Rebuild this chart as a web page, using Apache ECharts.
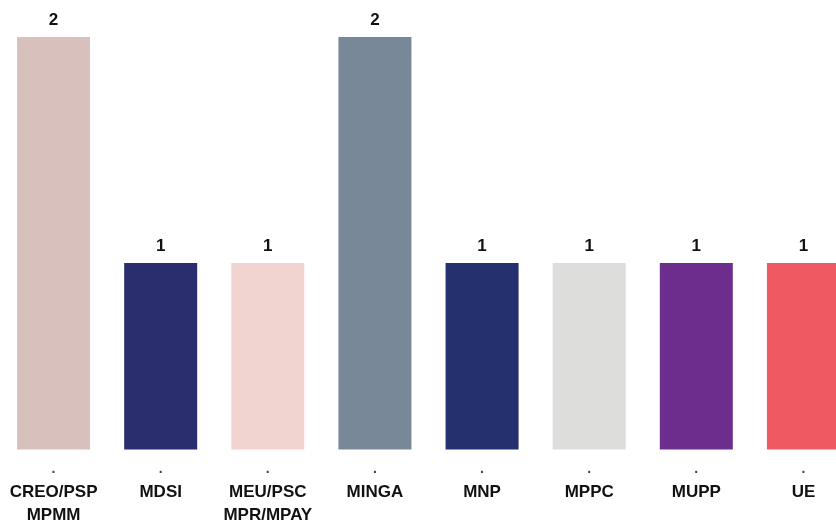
<!DOCTYPE html>
<html>
<head>
<meta charset="utf-8">
<script src="https://cdn.jsdelivr.net/npm/echarts@6/dist/echarts.min.js"></script>
<style>
html,body{margin:0;padding:0;background:#fff;}
#chart{width:836px;height:523px;}
</style>
</head>
<body>
<div id="chart"></div>
<script>
var categories = ["CREO/PSP\nMPMM", "MDSI", "MEU/PSC\nMPR/MPAY", "MINGA", "MNP", "MPPC", "MUPP", "UE"];
var values = [2, 1, 1, 2, 1, 1, 1, 1];
var barColors = ["#d8c1bd", "#2a2d6e", "#f1d4d0", "#788898", "#25316f", "#dddddc", "#6d2d8d", "#ef5a62"];

var chart = echarts.init(document.getElementById('chart'), null, {renderer: 'canvas'});
var font = "'Liberation Sans', Arial, Helvetica, sans-serif";
chart.setOption({
  animation: false,
  grid: {left: 0, right: -21, top: 37, bottom: 73.5, containLabel: false, outerBoundsMode: 'none'},
  xAxis: {
    type: 'category',
    data: categories,
    axisLine: {show: false},
    axisTick: {show: false},
    axisLabel: {
      interval: 0,
      margin: 8,
      formatter: function (v) {
        var lines = v.split('\n').map(function (s) { return '{name|' + s + '}'; });
        return '{dot|.}\n' + lines.join('\n');
      },
      rich: {
        dot: {fontFamily: font, fontSize: 14, fontWeight: 'bold', color: '#444', lineHeight: 23},
        name: {fontFamily: font, fontSize: 17, fontWeight: 'bold', color: '#111', lineHeight: 23}
      }
    }
  },
  yAxis: {
    type: 'value',
    min: 0.175,
    max: 2,
    show: false,
    splitLine: {show: false}
  },
  series: [{
    type: 'bar',
    barWidth: 73,
    data: values.map(function (v, i) { return {value: v, itemStyle: {color: barColors[i]}}; }),
    label: {
      show: true,
      position: 'top',
      distance: 8,
      fontFamily: font,
      fontSize: 17,
      fontWeight: 'bold',
      color: '#111'
    }
  }]
});
</script>
</body>
</html>
